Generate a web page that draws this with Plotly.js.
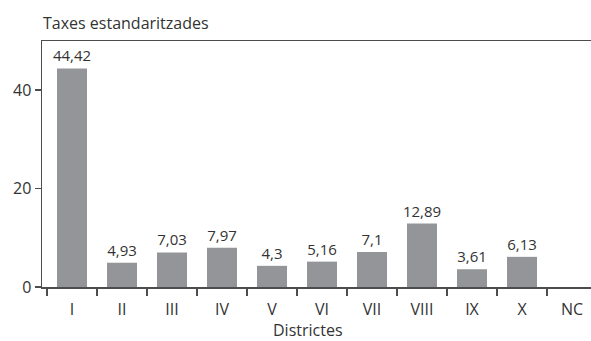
<!DOCTYPE html>
<html>
<head>
<meta charset="utf-8">
<script src="https://cdn.plot.ly/plotly-3.0.1.min.js"></script>
<style>
  html, body { margin: 0; padding: 0; background: #fff; }
  #chart { width: 591px; height: 341px; }
</style>
</head>
<body>
<div id="chart"></div>
<script>
// Standardised rates by district
const districts = ['I', 'II', 'III', 'IV', 'V', 'VI', 'VII', 'VIII', 'IX', 'X', 'NC'];
const rates = [44.42, 4.93, 7.03, 7.97, 4.3, 5.16, 7.1, 12.89, 3.61, 6.13, null];

// Labels use a comma as the decimal mark
const rateLabels = rates.map(v => (v === null ? '' : String(v).replace('.', ',')));

const axisColor = '#4d4d4d';
const textColor = '#333333';
const fontFamily = '"Open Sans", "Noto Sans", sans-serif';

const trace = {
  type: 'bar',
  x: districts,
  y: rates,
  text: rateLabels,
  textposition: 'outside',
  constraintext: 'none',
  cliponaxis: false,
  textfont: { family: fontFamily, size: 15, color: textColor },
  marker: { color: '#939598', line: { width: 0 } },
  hoverinfo: 'skip'
};

const layout = {
  width: 591,
  height: 341,
  margin: { l: 42, r: 0, t: 41, b: 54 },
  paper_bgcolor: '#ffffff',
  plot_bgcolor: '#ffffff',
  font: { family: fontFamily, size: 16, color: textColor },
  bargap: 0.4,
  showlegend: false,
  xaxis: {
    type: 'category',
    range: [-0.6, 10.38],
    showline: true,
    linecolor: axisColor,
    linewidth: 1.5,
    mirror: true,
    ticks: 'outside',
    tickson: 'boundaries',
    ticklen: 7,
    tickcolor: axisColor,
    tickwidth: 1.5,
    ticklabelstandoff: 7,
    showgrid: false,
    zeroline: false,
    tickfont: { family: fontFamily, size: 16, color: textColor }
  },
  yaxis: {
    range: [0, 50],
    tickvals: [0, 20, 40],
    showline: true,
    linecolor: axisColor,
    linewidth: 1.5,
    ticks: 'outside',
    ticklen: 6,
    tickcolor: axisColor,
    tickwidth: 1.5,
    showgrid: false,
    zeroline: false,
    tickfont: { family: fontFamily, size: 16, color: textColor }
  },
  annotations: [
    {
      // value-axis caption above the plot
      text: 'Taxes estandaritzades',
      xref: 'paper', yref: 'paper',
      x: 0, y: 1,
      xshift: -1, yshift: 18,
      xanchor: 'left', yanchor: 'middle',
      showarrow: false,
      font: { family: fontFamily, size: 16, color: textColor }
    },
    {
      // category-axis caption below the tick labels
      text: 'Districtes',
      xref: 'paper', yref: 'paper',
      x: 0.485, y: 0,
      yshift: -43,
      xanchor: 'center', yanchor: 'middle',
      showarrow: false,
      font: { family: fontFamily, size: 16, color: textColor }
    }
  ]
};

Plotly.newPlot('chart', [trace], layout, { staticPlot: true, displayModeBar: false });
</script>
</body>
</html>
